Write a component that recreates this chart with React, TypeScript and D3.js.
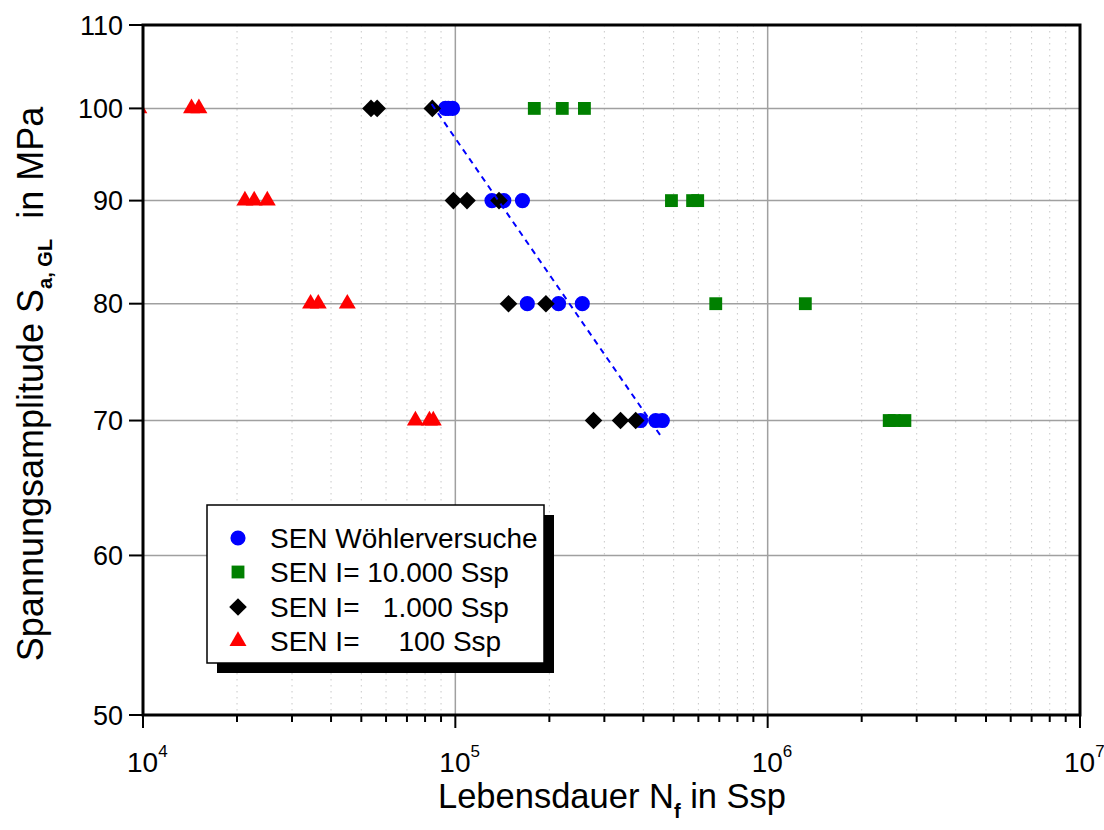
import React from "react";
import * as d3 from "d3";

// ---- data ----
const woehlerN = [9.3e4, 9.5e4, 9.8e4, 1.31e5, 1.43e5, 1.64e5, 1.7e5, 2.14e5, 2.55e5, 3.92e5, 4.38e5, 4.6e5];
const woehlerS = [100, 100, 100, 90, 90, 90, 80, 80, 80, 70, 70, 70];

const i10000N = [1.79e5, 2.2e5, 2.59e5, 4.92e5, 5.75e5, 5.97e5, 6.82e5, 1.32e6, 2.45e6, 2.54e6, 2.75e6];
const i10000S = [100, 100, 100, 90, 90, 90, 80, 80, 70, 70, 70];

const i1000N = [5.37e4, 5.62e4, 8.44e4, 9.86e4, 1.09e5, 1.38e5, 1.48e5, 1.95e5, 2.77e5, 3.38e5, 3.78e5];
const i1000S = [100, 100, 100, 90, 90, 90, 80, 80, 70, 70, 70];

const i100N = [9.7e3, 1.43e4, 1.51e4, 2.12e4, 2.27e4, 2.5e4, 3.44e4, 3.64e4, 4.51e4, 7.45e4, 8.26e4, 8.5e4];
const i100S = [100, 100, 100, 90, 90, 90, 80, 80, 80, 70, 70, 70];

const fitN = [8.4e4, 4.6e5];
const fitS = [100.5, 68.6];

const yTicks = [50, 60, 70, 80, 90, 100, 110];
const xDecades = [4, 5, 6, 7];
const minorMult = [2, 3, 4, 5, 6, 7, 8, 9];

const legendLabels = [
  "SEN Wöhlerversuche",
  "SEN I= 10.000 Ssp",
  "SEN I=   1.000 Ssp",
  "SEN I=     100 Ssp",
];

const FONT = "'Liberation Sans', Arial, sans-serif";

export default function App() {
  const W = 1104, H = 830;
  const L = 143, R = 1080, T = 25, B = 715;
  const x = d3.scaleLog().domain([1e4, 1e7]).range([L, R]);
  const y = d3.scaleLog().domain([50, 110]).range([B, T]);

  const minorX: number[] = [];
  [4, 5, 6].forEach((d) => minorMult.forEach((m) => minorX.push(m * Math.pow(10, d))));

  const circle = d3.symbol().type(d3.symbolCircle).size(180)()!;
  const square = d3.symbol().type(d3.symbolSquare).size(165)()!;
  const diamond = d3.symbol().type(d3.symbolSquare).size(155)()!;
  const triangle = d3.symbol().type(d3.symbolTriangle).size(125)()!;

  const lineGen = d3
    .line<number>()
    .x((_, i) => x(fitN[i]))
    .y((_, i) => y(fitS[i]));

  const series = [
    { N: woehlerN, S: woehlerS, path: circle, color: "#0000ff", rot: 0 },
    { N: i10000N, S: i10000S, path: square, color: "#008000", rot: 0 },
    { N: i1000N, S: i1000S, path: diamond, color: "#000000", rot: 45 },
    { N: i100N, S: i100S, path: triangle, color: "#ff0000", rot: 0 },
  ];

  const legX = 207, legY = 505, legW = 337, legH = 158;
  const rowY = [538, 572, 607, 641];

  return (
    <svg width={W} height={H} style={{ display: "block", position: "absolute", left: 0, top: 0 }} fontFamily={FONT}>
      <rect x={0} y={0} width={W} height={H} fill="#ffffff" />
      <defs>
        <clipPath id="plotClip">
          <rect x={L} y={T} width={R - L} height={B - T} />
        </clipPath>
      </defs>

      {/* minor x grid */}
      {minorX.map((v, i) => (
        <line key={"mg" + i} x1={x(v)} x2={x(v)} y1={T} y2={B} stroke="#c8c8c8" strokeWidth={1} strokeDasharray="1.5,4.5" />
      ))}
      {/* major x grid */}
      {xDecades.slice(1, -1).map((d) => (
        <line key={"xg" + d} x1={x(Math.pow(10, d))} x2={x(Math.pow(10, d))} y1={T} y2={B} stroke="#a0a0a0" strokeWidth={1.5} />
      ))}
      {/* major y grid */}
      {yTicks.slice(1, -1).map((v) => (
        <line key={"yg" + v} x1={L} x2={R} y1={y(v)} y2={y(v)} stroke="#a0a0a0" strokeWidth={1.5} />
      ))}

      {/* data */}
      <g clipPath="url(#plotClip)">
        {series.map((s, si) =>
          s.N.map((n, i) => (
            <path
              key={si + "-" + i}
              d={s.path}
              fill={s.color}
              transform={`translate(${x(n)},${y(s.S[i])}) rotate(${s.rot})`}
            />
          ))
        )}
        <path d={lineGen(fitN) || ""} fill="none" stroke="#0000ff" strokeWidth={2} strokeDasharray="6,5" />
      </g>

      {/* frame */}
      <rect x={L} y={T} width={R - L} height={B - T} fill="none" stroke="#000" strokeWidth={3} />

      {/* y ticks & labels */}
      {yTicks.map((v) => (
        <g key={"yt" + v}>
          <line x1={L - 14} x2={L} y1={y(v)} y2={y(v)} stroke="#000" strokeWidth={2} />
          <text x={123} y={y(v) + 9.5} textAnchor="end" fontSize={27} fill="#000">
            {v}
          </text>
        </g>
      ))}

      {/* x ticks & labels */}
      {xDecades.map((d) => (
        <g key={"xt" + d}>
          <line x1={x(Math.pow(10, d))} x2={x(Math.pow(10, d))} y1={B} y2={B + 13} stroke="#000" strokeWidth={2} />
          <text x={x(Math.pow(10, d)) - 16} y={772} fontSize={28} fill="#000">
            10
            <tspan fontSize={17} dy={-15}>
              {d}
            </tspan>
          </text>
        </g>
      ))}
      {minorX.map((v, i) => (
        <line key={"mt" + i} x1={x(v)} x2={x(v)} y1={B} y2={B + 7} stroke="#000" strokeWidth={2} />
      ))}

      {/* axis titles */}
      <text x={612} y={808} textAnchor="middle" fontSize={34.5} fill="#000">
        Lebensdauer N
        <tspan fontSize={20} fontWeight="bold" dy={10}>f</tspan>
        <tspan dy={-10}> in Ssp</tspan>
      </text>
      <text
        transform={`translate(43,384) rotate(-90)`}
        textAnchor="middle"
        fontSize={36}
        fill="#000"
        style={{ whiteSpace: "pre" }}
      >
        Spannungsamplitude S
        <tspan fontSize={20} fontWeight="bold" dy={9}>a, GL</tspan>
        <tspan dy={-9}>{"  in MPa"}</tspan>
      </text>

      {/* legend */}
      <rect x={legX + 10} y={legY + 10} width={legW} height={legH} fill="#000" />
      <rect x={legX} y={legY} width={legW} height={legH} fill="#fff" stroke="#000" strokeWidth={1.5} />
      {series.map((s, i) => (
        <g key={"lg" + i}>
          <path d={s.path} fill={s.color} transform={`translate(238,${rowY[i]}) rotate(${s.rot})`} />
          <text x={270} y={rowY[i] + 10} fontSize={28} fill="#000" style={{ whiteSpace: "pre" }}>
            {legendLabels[i]}
          </text>
        </g>
      ))}
    </svg>
  );
}
